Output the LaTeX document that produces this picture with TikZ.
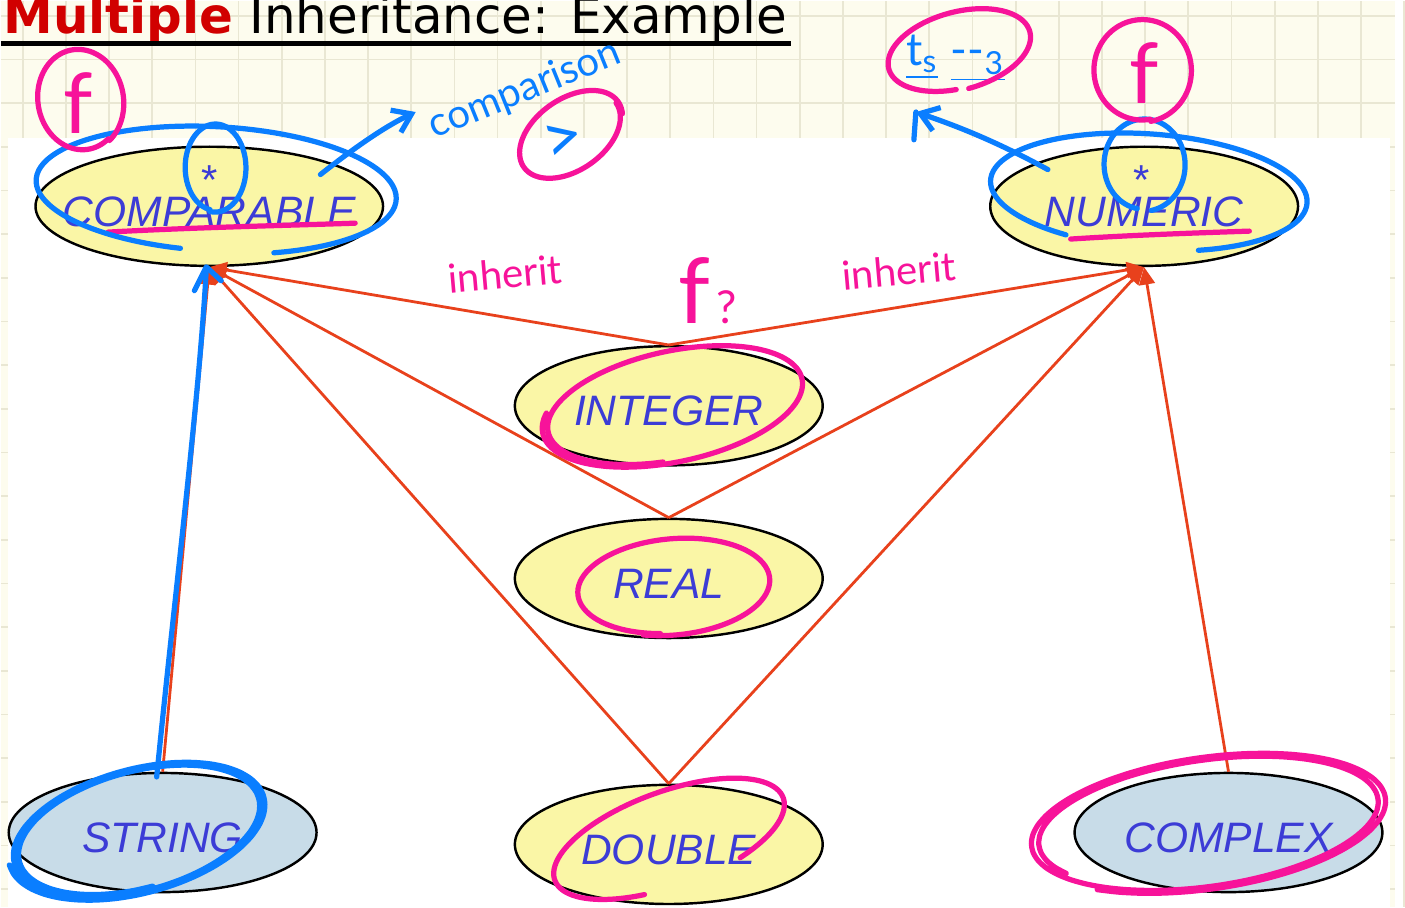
\documentclass[tikz,border=0pt]{standalone}
\usepackage{fontspec}
\setsansfont{Liberation Sans}
\newfontfamily\titlefont{DejaVu Sans}
\newfontfamily\penfont{Lato}
\usetikzlibrary{calc,positioning,arrows.meta,shapes.geometric}
\definecolor{paper}{HTML}{FDFCEE}
\definecolor{gridline}{HTML}{E9E7D3}
\definecolor{classyellow}{HTML}{FAF6A6}
\definecolor{classblue}{HTML}{C8DCE8}
\definecolor{labelblue}{HTML}{3C3CD6}
\definecolor{linkred}{HTML}{E8411C}
\definecolor{titlered}{HTML}{D10000}
\definecolor{penpink}{HTML}{F7139A}
\definecolor{penblue}{HTML}{0A7EFF}

% class name, set a little below the centre of its ellipse
\newcommand{\classname}[1]{\raisebox{-0.2cm}[0pt][0pt]{\makebox[0pt]{#1}}}
% hand-drawn loop: cx, cy, x radius, y radius, tilt, start, end, colour
\newcommand{\penloop}[8]{%
  \draw[pen, #8, rotate around={#5:(#1,#2)}] plot[smooth, domain=#6:#7, samples=90]
    ({#1+#3*(1+0.00012*(\x-#6))*cos(\x)}, {#2+#4*(1+0.00012*(\x-#6))*sin(\x)});}

\begin{document}
\begin{tikzpicture}[x=0.01cm, y=-0.01cm,
  cls/.style={ellipse, draw=black, line width=0.7pt, fill=classyellow,
    minimum width=3.1cm, minimum height=1.2cm, inner sep=0pt,
    font=\fontsize{12.2}{14}\selectfont\sffamily\itshape, text=labelblue},
  leaf/.style={cls, fill=classblue},
  starmark/.style={font=\fontsize{12}{14}\selectfont\sffamily, text=labelblue, inner sep=0pt},
  arr/.style={-{Triangle[length=5pt,width=4.5pt]}, line width=0.8pt, color=linkred},
  pen/.style={line width=1.5pt, line cap=round, line join=round},
  pentext/.style={font=\penfont\fontsize{11.5}{13}\selectfont, inner sep=0pt}
]
  % notebook page and slide
  \fill[paper] (0,0) rectangle (1405,913);
  \foreach \gx in {0,...,32} \draw[gridline, line width=0.5pt] ({22+43.5*\gx},0) -- ++(0,913);
  \foreach \gy in {0,...,20} \draw[gridline, line width=0.5pt] (0,{15+44*\gy}) -- ++(1405,0);
  \fill[white] (7,138) rectangle (1400,913);
  \useasboundingbox (0,0) rectangle (1405,913);

  % title
  \node[anchor=base west, inner sep=0pt, font=\titlefont\fontsize{14.3}{16}\selectfont] (title) at (2,33)
    {\textcolor{titlered}{\bfseries Multiple} Inheritance: Example};
  \draw[line width=1.5pt] (0,43) -- (796,43);

  % classes
  \node[cls, minimum width=3.5cm] (cmp) at (210,207) {\classname{COMPARABLE}};
  \node[cls] (num) at (1152,207) {\classname{NUMERIC}};
  \node[cls] (int) at (673,408) {\classname{INTEGER}};
  \node[cls] (real) at (673,582) {\classname{REAL}};
  \node[leaf] (str) at (163,838) {\classname{STRING}};
  \node[cls] (dbl) at (673,850) {\classname{DOUBLE}};
  \node[leaf] (cpx) at (1237,838) {\classname{COMPLEX}};
  \node[starmark] (cmpstar) at (210,181) {*};
  \node[starmark] (numstar) at (1149,181) {*};

  % inheritance
  \draw[arr] (str.north) -- (cmp.south);
  \draw[arr] (cpx.north) -- (num.south);
  \foreach \src in {int,real,dbl} {
    \draw[arr] (\src.north) -- (cmp.south);
    \draw[arr] (\src.north) -- (num.south);
  }

  % pen notes
  \node[pentext, text=penblue, rotate=22, font=\penfont\fontsize{11.5}{13}\selectfont] (cmpnote) at (528,90) {comparison};
  \node[pentext, text=penblue, font=\penfont\fontsize{20}{22}\selectfont, rotate=15] (gt) at (567,142) {>};
  \node[pentext, text=penpink, rotate=5] (inhl) at (508,275) {inherit};
  \node[pentext, text=penpink, rotate=5] (inhr) at (905,272) {inherit};
  \node[pentext, text=penpink, anchor=base] (fq) at (712,325)
    {{\fontsize{26}{28}\selectfont f}\,{\fontsize{13}{15}\selectfont ?}};
  \node[pentext, text=penpink, font=\penfont\fontsize{24}{26}\selectfont] (cmpf) at (78,103) {f};
  \node[pentext, text=penpink, font=\penfont\fontsize{24}{26}\selectfont] (numf) at (1152,73) {f};
  \node[pentext, text=penblue, font=\penfont\fontsize{13}{15}\selectfont] (ts) at (962,58)
    {\underline{t\textsubscript{s}}\;\underline{--\textsubscript{3}}};

  \coordinate (cmptail) at (322,175);
  \coordinate (cmptip) at (418,112);
  \draw[pen, penblue, -{Straight Barb[length=5pt,width=7pt]}] (cmptail) .. controls (360,145) and (390,125) .. (cmptip);
  \coordinate (numtail) at (1055,170);
  \coordinate (numtip) at (922,112);
  \draw[pen, penblue, -{Straight Barb[length=5pt,width=7pt]}] (numtail) .. controls (1000,140) and (960,125) .. (numtip);
  \draw[pen, penblue] (numtip) -- (920,140);

  \draw[pen, penblue] (157,782) .. controls (175,600) and (200,400) .. (207,270);
  \draw[pen, penblue] (195,292) -- (207,268) -- (222,282);
  \draw[pen, penpink] (108,233) .. controls (200,228) and (300,226) .. (357,224);
  \draw[pen, penpink] (1078,240) .. controls (1140,236) and (1200,234) .. (1258,232);

  \penloop{215}{190}{178}{62}{-3}{100}{430}{penblue}
  \penloop{216}{168}{30}{43}{0}{100}{460}{penblue}
  \penloop{1155}{192}{157}{57}{-4}{120}{430}{penblue}
  \penloop{1152}{165}{40}{45}{0}{100}{440}{penblue}
  \penloop{574}{135}{56}{35}{35}{0}{380}{penpink}
  \penloop{80}{100}{42}{50}{10}{60}{420}{penpink}
  \penloop{1150}{70}{48}{50}{0}{80}{440}{penpink}
  \penloop{965}{50}{72}{38}{15}{100}{450}{penpink}
  \penloop{678}{408}{128}{54}{12}{100}{560}{penpink}
  \penloop{677}{590}{95}{47}{5}{100}{470}{penpink}
  \penloop{672}{845}{120}{47}{20}{110}{420}{penpink}
  \penloop{138}{836}{122}{58}{15}{90}{900}{penblue}
  \penloop{1215}{828}{170}{62}{8}{150}{850}{penpink}
\end{tikzpicture}
\end{document}
